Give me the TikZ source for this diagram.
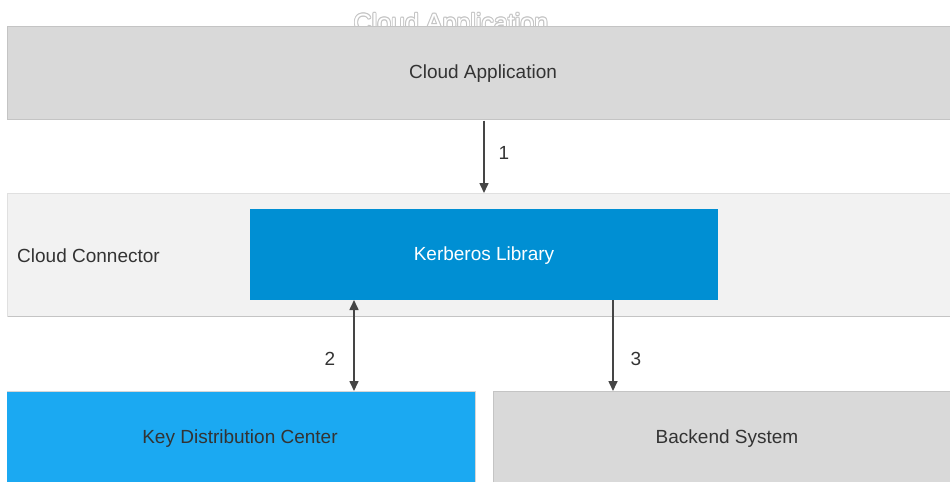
\documentclass[tikz,border=0pt]{standalone}
\usepackage{fontspec}
\setmainfont{Liberation Sans}
\usetikzlibrary{arrows.meta}
\definecolor{boxgrey}{HTML}{D9D9D9}
\definecolor{edgegrey}{HTML}{C4C4C4}
\definecolor{conngrey}{HTML}{F2F2F2}
\definecolor{connedge}{HTML}{E0E0E0}
\definecolor{kerb}{HTML}{008FD3}
\definecolor{kdc}{HTML}{1BA9F2}
\definecolor{txt}{HTML}{333333}
\definecolor{arr}{HTML}{454545}
\tikzset{
  lbl/.style={font=\fontsize{19}{23}\selectfont, text=txt},
  tip/.style={Triangle[length=10pt,width=10pt]},
  conn/.style={draw=arr, line width=1.6pt, -{Triangle[length=10pt,width=9pt]}},
  biconn/.style={draw=arr, line width=1.6pt, {Triangle[length=10pt,width=9pt]}-{Triangle[length=10pt,width=9pt]}},
  num/.style={font=\fontsize{19}{23}\selectfont, text=txt}
}
\begin{document}
\begin{tikzpicture}[x=1pt,y=-1pt]
\useasboundingbox (0,0) rectangle (950,482);
% outlined ghost title
\foreach \dx/\dy in {-0.9/0,0.9/0,0/-0.9,0/0.9,-0.7/-0.7,0.7/0.7,-0.7/0.7,0.7/-0.7}
  \node[font=\fontsize{25}{30}\selectfont, text=edgegrey] at (451+\dx,25+\dy) {Cloud Application};
\node[font=\fontsize{25}{30}\selectfont, text=white] (ghost) at (451,25) {Cloud Application};
% Cloud Application box
\fill[boxgrey] (7,26) rectangle (951,120);
\draw[edgegrey, line width=1.2pt] (7,26.5) -- (951,26.5);
\draw[edgegrey, line width=1.2pt] (7,119.5) -- (951,119.5);
\draw[edgegrey, line width=0.8pt] (7.4,26) -- (7.4,120);
\node[lbl] (app) at (483,73.5) {Cloud Application};
\coordinate (appb) at (484,120.5);
% Cloud Connector box
\fill[conngrey] (7,193) rectangle (951,317);
\draw[connedge, line width=1.2pt] (7,193.5) -- (951,193.5);
\draw[edgegrey, line width=1.2pt] (7,316.5) -- (951,316.5);
\draw[connedge, line width=0.8pt] (7.4,193) -- (7.4,317);
\node[lbl, anchor=west, inner sep=0pt] (cc) at (17,255.5) {Cloud Connector};
\coordinate (cct) at (484,193);
% Kerberos Library
\fill[kerb] (250,209) rectangle (718,300);
\node[lbl, text=white] (kerbl) at (484,255.5) {Kerberos Library};
\coordinate (k2) at (354,300);
\coordinate (k3) at (613,300);
% KDC
\fill[kdc] (7,391) rectangle (475,482);
\draw[edgegrey!70, line width=1pt] (7,391.5) -- (475.5,391.5) -- (475.5,482);
\node[lbl] (kdcl) at (240,438.5) {Key Distribution Center};
\coordinate (d2) at (354,391);
% Backend
\fill[boxgrey] (493,391) rectangle (951,482);
\draw[edgegrey, line width=1pt] (493.5,482) -- (493.5,391.5) -- (951,391.5);
\node[lbl] (be) at (727,438.5) {Backend System};
\coordinate (b3) at (613,391);
% connectors
\draw[conn] (appb) -- (cct);
\node[num] (n1) at (504,153) {1};
\draw[biconn] (k2) -- (d2);
\node[num] (n2) at (330,359) {2};
\draw[conn] (k3) -- (b3);
\node[num] (n3) at (636,359) {3};
\end{tikzpicture}
\end{document}
